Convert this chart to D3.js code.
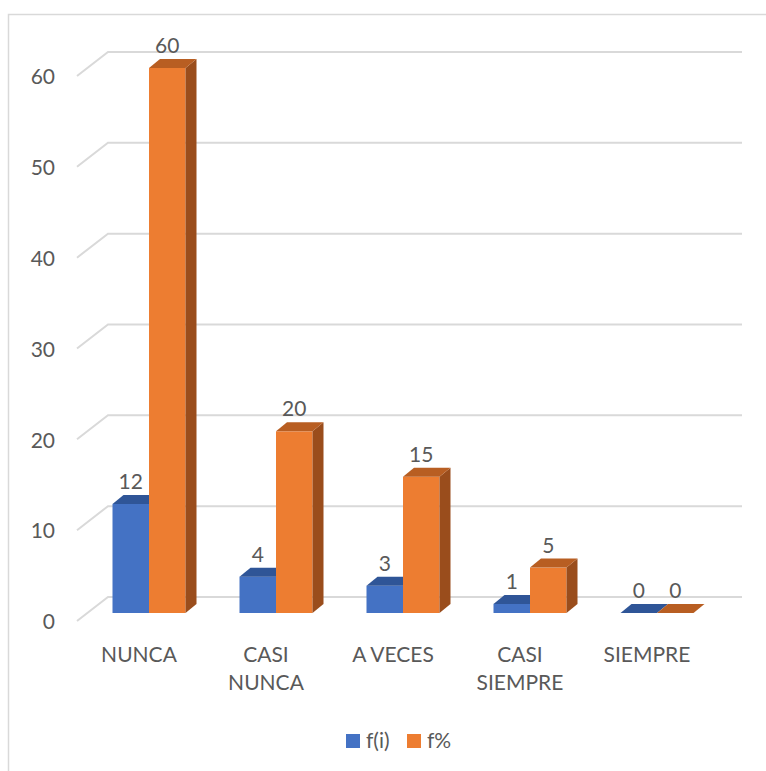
<!DOCTYPE html>
<html>
<head>
<meta charset="utf-8">
<script src="https://cdn.jsdelivr.net/npm/d3@7"></script>
<style>
  body { margin: 0; background: #fff; }
  text { font-family: Lato, "Open Sans", sans-serif; fill: #595959; }
</style>
</head>
<body>
<script>
let categories = [['NUNCA'], ['CASI', 'NUNCA'], ['A VECES'], ['CASI', 'SIEMPRE'], ['SIEMPRE']]
let keys = categories.map((d) => d.join(' '))
let fi = [12, 4, 3, 1, 0]
let fpct = [60, 20, 15, 5, 0]
let ticks = [0, 10, 20, 30, 40, 50, 60]
let seriesNames = ['f(i)', 'f%']

let series = [
  { name: seriesNames[0], values: fi, front: '#4472C4', top: '#2F5597', side: '#2A4D8A' },
  { name: seriesNames[1], values: fpct, front: '#ED7D31', top: '#B85E22', side: '#9A4D1C' }
]

let width = 766, height = 771
let fs = 21

// 3D projection offsets
let wall = { dx: 31, dy: -24 }   // full floor depth
let depth = { dx: 11, dy: -9 }   // bar depth
let frontBase = 621, backBase = 597, barBase = 613
let wallLeft = 77, wallRight = 742

let h = d3.scaleLinear().domain([0, 60]).range([0, 545])

let x = d3.scaleBand()
  .domain(keys)
  .range([85.5, 720.5])
  .padding(0)

let barW = 36.5

let svg = d3.select('body').append('svg')
  .attr('width', width)
  .attr('height', height)

svg.append('rect')
  .attr('x', 8.5).attr('y', 14.5)
  .attr('width', 800).attr('height', 800)
  .attr('fill', 'none')
  .attr('stroke', '#d9d9d9')
  .attr('stroke-width', 1.5)

// gridlines: side diagonal + back wall
let grid = svg.append('g')
  .attr('fill', 'none')
  .attr('stroke', '#d9d9d9')
  .attr('stroke-width', 2)

grid.selectAll('path')
  .data(ticks)
  .enter().append('path')
    .attr('d', (d) => 'M' + [wallLeft, frontBase - h(d)] +
      'L' + [wallLeft + wall.dx, backBase - h(d)] +
      'L' + [wallRight, backBase - h(d)])

svg.append('g')
  .selectAll('text')
  .data(ticks)
  .enter().append('text')
    .attr('x', 55)
    .attr('y', (d) => frontBase - h(d) + 3)
    .attr('text-anchor', 'end')
    .attr('dominant-baseline', 'middle')
    .attr('font-size', fs)
    .text((d) => d)

// bars
let bars = svg.append('g')

series.forEach((s, si) => {
  let g = bars.append('g')
  keys.forEach((k, i) => {
    let v = s.values[i]
    let x0 = x(k) + x.bandwidth() / 2 - barW + si * barW
    let x1 = x0 + barW
    let yt = barBase - h(v)
    let yb = barBase
    if (v > 0) {
      g.append('rect')
        .attr('x', x0).attr('y', yt)
        .attr('width', barW).attr('height', yb - yt)
        .attr('fill', s.front)
      g.append('path')
        .attr('d', 'M' + [x1, yt] + 'L' + [x1 + depth.dx, yt + depth.dy] +
          'L' + [x1 + depth.dx, yb + depth.dy] + 'L' + [x1, yb] + 'Z')
        .attr('fill', s.side)
    }
    g.append('path')
      .attr('d', 'M' + [x0, yt] + 'L' + [x0 + depth.dx, yt + depth.dy] +
        'L' + [x1 + depth.dx, yt + depth.dy] + 'L' + [x1, yt] + 'Z')
      .attr('fill', s.top)
    g.append('text')
      .attr('x', (x0 + x1) / 2)
      .attr('y', yt - 15)
      .attr('text-anchor', 'middle')
      .attr('font-size', fs)
      .text(v)
  })
})

// category labels
let cat = svg.append('g')
categories.forEach((lines, i) => {
  let cx = x(keys[i]) + x.bandwidth() / 2 - 10
  let t = cat.append('text')
    .attr('y', 662)
    .attr('text-anchor', 'middle')
    .attr('font-size', fs)
  lines.forEach((l, j) => {
    t.append('tspan')
      .attr('x', cx)
      .attr('dy', j ? 28 : 0)
      .text(l)
  })
})

// legend
let legend = svg.append('g')
let lx = [346, 407]
series.forEach((s, i) => {
  legend.append('rect')
    .attr('x', lx[i]).attr('y', 734)
    .attr('width', 14).attr('height', 14)
    .attr('fill', s.front)
  legend.append('text')
    .attr('x', lx[i] + 20)
    .attr('y', 748)
    .attr('font-size', fs)
    .text(s.name)
})
</script>
</body>
</html>
